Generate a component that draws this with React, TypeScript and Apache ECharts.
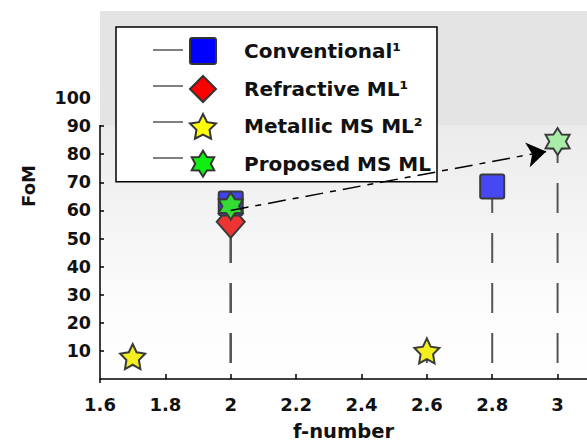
import React, { useEffect, useRef } from "react";
import * as echarts from "echarts";

// ---- data ----
const xLabelValues = [1.6, 1.8, 2, 2.2, 2.4, 2.6, 2.8, 3];
const xTickValues = [1.8, 2, 2.2, 2.4, 2.6, 2.8, 3];
const yLabelValues = [10, 20, 30, 40, 50, 60, 70, 80, 90, 100];
const yTickValues = [10, 20, 30, 40, 50, 60, 70, 80, 90];

const conventionalX = [2.0, 2.8];
const conventionalY = [62.5, 68.5];
const refractiveX = [2.0];
const refractiveY = [56];
const metallicX = [1.7, 2.6];
const metallicY = [8, 10];
const proposedX = [2.0, 3.0];
const proposedY = [61.5, 84.5];

const arrowFrom = [2.0, 60];
const arrowTo = [2.965, 81];

const legendNames = ["Conventional¹", "Refractive ML¹", "Metallic MS ML²", "Proposed MS ML"];

const FONT = "DejaVu Sans";

function starPath(n: number, inner: number) {
  const pts: string[] = [];
  for (let i = 0; i < n * 2; i++) {
    const a = -Math.PI / 2 + (i * Math.PI) / n;
    const r = i % 2 === 0 ? 10 : 10 * inner;
    pts.push(`${(r * Math.cos(a)).toFixed(2)},${(r * Math.sin(a)).toFixed(2)}`);
  }
  return "path://M" + pts.join("L") + "Z";
}

const squarePath = "path://M2,0H22Q24,0 24,2V22Q24,24 22,24H2Q0,24 0,22V2Q0,0 2,0Z";

const defs = [
  {
    name: legendNames[1], xs: refractiveX, ys: refractiveY, symbol: "diamond",
    size: [28, 32], colors: ["#ee3333"], legendColor: "#ff0000", z: 3,
  },
  {
    name: legendNames[0], xs: conventionalX, ys: conventionalY, symbol: squarePath,
    size: [24, 24], colors: ["#4242e6", "#4848f2"], legendColor: "#0000ff", z: 4,
  },
  {
    name: legendNames[2], xs: metallicX, ys: metallicY, symbol: starPath(5, 0.5),
    size: [25, 25], colors: ["#f4ef1e", "#f4ef1e"], legendColor: "#ffff00", z: 5,
  },
  {
    name: legendNames[3], xs: proposedX, ys: proposedY, symbol: starPath(6, 0.6),
    size: [24, 27], colors: ["#33dd33", "#a8eca8"], legendColor: "#11ee11", z: 6,
  },
];

export default function App() {
  const ref = useRef<HTMLDivElement>(null);
  useEffect(() => {
    if (!ref.current) return;
    const chart = echarts.init(ref.current, null, { renderer: "svg" });

    const stemSeries: any[] = [];
    defs.forEach((d) => {
      d.xs.forEach((x, i) => {
        stemSeries.push({
          type: "line",
          data: [[x, 0], [x, d.ys[i]]],
          symbol: "none",
          silent: true,
          z: 1,
          lineStyle: { color: "#555", width: 2, type: [30, 20], dashOffset: 34 },
        });
      });
    });

    const markerSeries = defs.map((d) => ({
      type: "scatter",
      name: d.name,
      z: d.z,
      symbol: d.symbol,
      symbolSize: d.size,
      itemStyle: { color: d.legendColor, borderColor: "#3a3a3a", borderWidth: 2, opacity: 1 },
      data: d.xs.map((x, i) => ({ value: [x, d.ys[i]], itemStyle: { color: d.colors[i] } })),
    }));

    const labelStyle = { fontFamily: FONT, fontWeight: "bold", color: "#111" };

    chart.setOption({
      animation: false,
      backgroundColor: "#ffffff",
      grid: { left: 100, right: 0, top: 98, bottom: 63 },
      xAxis: {
        type: "value",
        min: 1.6,
        max: 3.09,
        name: "f-number",
        nameLocation: "middle",
        nameGap: 42,
        nameTextStyle: { ...labelStyle, fontSize: 19.5 },
        axisLine: { show: true, lineStyle: { color: "#000", width: 1.5 } },
        axisTick: { show: true, inside: true, length: 5, customValues: xTickValues, lineStyle: { color: "#000", width: 1.5 } },
        axisLabel: { ...labelStyle, fontSize: 18, margin: 16, customValues: xLabelValues, formatter: (v: number) => String(v) },
        splitLine: { show: false },
      },
      yAxis: {
        type: "value",
        min: 0,
        max: 100,
        axisLine: { show: false },
        axisTick: { show: true, inside: true, length: 4, customValues: yTickValues, lineStyle: { color: "#000", width: 1.5 } },
        axisLabel: { ...labelStyle, fontSize: 17.5, margin: 9, customValues: yLabelValues },
        splitLine: { show: false },
      },
      legend: {
        orient: "vertical",
        left: 116,
        top: 27,
        padding: [10, 6, 4, 73],
        itemWidth: 26,
        itemHeight: 26,
        itemGap: 10,
        backgroundColor: "#ffffff",
        borderColor: "#000",
        borderWidth: 1.5,
        borderRadius: 0,
        selectedMode: false,
        itemStyle: { borderColor: "#333", borderWidth: 2 },
        data: legendNames,
        formatter: (name: string) => `{p| }{t|${name}}`,
        textStyle: {
          rich: {
            p: { width: 23 },
            t: { fontSize: 20, fontWeight: "bold", fontFamily: FONT, color: "#111" },
          },
        },
      },
      graphic: {
        elements: [
          { type: "rect", z: -10, silent: true, shape: { x: 100, y: 11, width: 487, height: 114 }, style: { fill: "#e4e4e4" } },
          {
            type: "rect", z: -10, silent: true,
            shape: { x: 100, y: 125, width: 487, height: 258 },
            style: {
              fill: new echarts.graphic.LinearGradient(0, 0, 0, 1, [
                { offset: 0, color: "#ebebeb" },
                { offset: 0.7, color: "#fcfcfc" },
                { offset: 1, color: "#ffffff" },
              ]),
            },
          },
          { type: "line", z: 10, silent: true, shape: { x1: 100, y1: 125, x2: 100, y2: 383 }, style: { stroke: "#000", lineWidth: 1.5 } },
          ...[50, 86, 122, 158].map((y) => ({
            type: "line", z: 10, silent: true,
            shape: { x1: 153, y1: y, x2: 183, y2: y },
            style: { stroke: "#555", lineWidth: 1.5 },
          })),
          {
            type: "text", z: 10, silent: true, x: 28, y: 186, rotation: Math.PI / 2,
            style: {
              text: "FoM", fill: "#111", fontSize: 18, fontWeight: "bold", fontFamily: FONT,
              align: "center", verticalAlign: "middle", textAlign: "center", textVerticalAlign: "middle",
            },
          },
        ],
      },
      series: [
        ...stemSeries,
        ...markerSeries,
        {
          type: "lines",
          coordinateSystem: "cartesian2d",
          z: 7,
          silent: true,
          symbol: ["none", "arrow"],
          symbolSize: 19,
          lineStyle: { color: "#000", width: 1.5, type: [18, 7, 6, 7], opacity: 1 },
          data: [{ coords: [arrowFrom, arrowTo] }],
        },
      ],
    });
    return () => chart.dispose();
  }, []);
  return <div ref={ref} style={{ position: "fixed", left: 0, top: 0, width: 587, height: 446 }} />;
}
